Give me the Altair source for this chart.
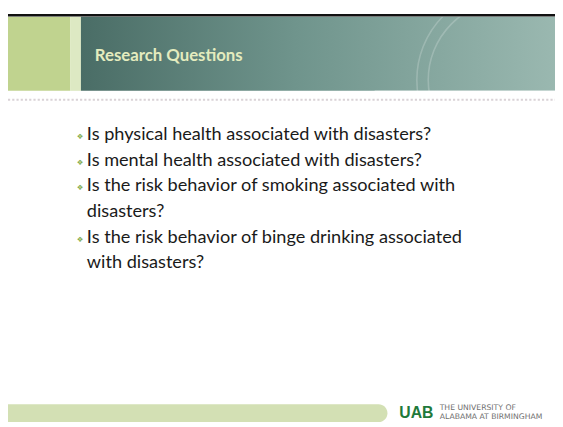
import altair as alt
import pandas as pd

# ---- content ----
title = "Research Questions"
questions = [
    ["Is physical health associated with disasters?"],
    ["Is mental health associated with disasters?"],
    ["Is the risk behavior of smoking associated with", "disasters?"],
    ["Is the risk behavior of binge drinking associated", "with disasters?"],
]
logo_mark = "UAB"
logo_lines = ["THE UNIVERSITY OF", "ALABAMA AT BIRMINGHAM"]

# ---- layout (page pixel coordinates) ----
W, H = 563, 427
M = 8
X = alt.Scale(domain=[M, W], range=[0, W - M])
Y = alt.Scale(domain=[M, H], range=[0, H - M])

def enc_xy(ch):
    return ch.encode(x=alt.X("x:Q", scale=X, axis=None), y=alt.Y("y:Q", scale=Y, axis=None))

def box(x0, x1, y0, y1):
    return pd.DataFrame({"x0": [x0], "x1": [x1], "y0": [y0], "y1": [y1]})

def rect(df, **kw):
    return alt.Chart(df).mark_rect(**kw).encode(
        x=alt.X("x0:Q", scale=X, axis=None),
        x2="x1:Q",
        y=alt.Y("y0:Q", scale=Y, axis=None),
        y2="y1:Q",
    )

green_block = rect(box(M, 71, 13.5, 89), color="#c0d38f")
light_stripe = rect(box(71, 82, 13.5, 89), color="#dde9c3")
teal = rect(
    box(82, W, 13.5, 89),
    color=alt.LinearGradient(
        gradient="linear",
        stops=[
            alt.GradientStop(color="#4a6d66", offset=0),
            alt.GradientStop(color="#6f948c", offset=0.45),
            alt.GradientStop(color="#9ab8b0", offset=1),
        ],
        x1=0, x2=1, y1=0, y2=0,
    ),
)

# faint seal watermark in the header (clipped by white covers below)
seal = alt.Chart(pd.DataFrame({"x": [515, 515], "y": [78, 78], "s": [34000, 26000]})).mark_point(
    shape="circle", filled=False, color="#ffffff", opacity=0.2, strokeWidth=1.6
).encode(x=alt.X("x:Q", scale=X, axis=None), y=alt.Y("y:Q", scale=Y, axis=None),
         size=alt.Size("s:Q", scale=None, legend=None))
cover_top = rect(box(M, W, M, 13.5), color="white")
cover_bottom = rect(box(380, W, 89, 180), color="white")
top_line = rect(box(M, W, 11, 13.5), color="#111111")

bottom_bar = rect(box(M, 393, 407, 425), color="#d3e0b4",
                  cornerRadiusTopRight=9, cornerRadiusBottomRight=9)

dots = alt.Chart(pd.DataFrame({"x0": [M], "x1": [W], "y": [98]})).mark_rule(
    color="#d9d2d6", strokeWidth=2.2, strokeDash=[2.2, 2.1]
).encode(
    x=alt.X("x0:Q", scale=X, axis=None), x2="x1:Q",
    y=alt.Y("y:Q", scale=Y, axis=None),
)

title_t = enc_xy(alt.Chart(pd.DataFrame({"t": [title], "x": [96], "y": [54]})).mark_text(
    align="left", baseline="middle", font="Lato", fontWeight="bold",
    fontSize=17, color="#e4ecbf"
)).encode(text="t:N")

# body lines
rows = []
i = 0
for q in questions:
    for j, line in enumerate(q):
        rows.append({"t": line, "x": 88, "y": 133 + 26 * i, "bullet": j == 0})
        i += 1
body = pd.DataFrame(rows)

body_t = enc_xy(alt.Chart(body).mark_text(
    align="left", baseline="middle", font="Lato", fontSize=18.4, color="#1a1a1a"
)).encode(text="t:N")

bul = body[body.bullet].assign(x=81, y=lambda d: d.y + 3, s="❖")
bullets = enc_xy(alt.Chart(bul).mark_text(
    align="center", baseline="middle", font="DejaVu Sans", fontSize=7.5, color="#86ad52"
)).encode(text="s:N")

logo = enc_xy(alt.Chart(pd.DataFrame({"t": [logo_mark], "x": [405], "y": [415.5]})).mark_text(
    align="left", baseline="middle", font="Liberation Sans", fontWeight="bold",
    fontSize=16, color="#1f7a3b"
)).encode(text="t:N")

logo_txt = enc_xy(alt.Chart(pd.DataFrame({"t": logo_lines, "x": [446, 446], "y": [411, 419.5]})).mark_text(
    align="left", baseline="middle", font="DejaVu Sans", fontSize=7.8, color="#6f6f6f"
)).encode(text="t:N")

chart = alt.layer(
    green_block, light_stripe, teal, seal, cover_top, cover_bottom, top_line,
    dots, bottom_bar, title_t, body_t, bullets, logo, logo_txt,
).properties(
    width=W - M, height=H - M, padding=0, autosize=alt.AutoSizeParams(type="none"),
    background="white",
).configure_view(stroke=None)

chart.save("out.html", embed_options={"renderer": "svg", "actions": False})
